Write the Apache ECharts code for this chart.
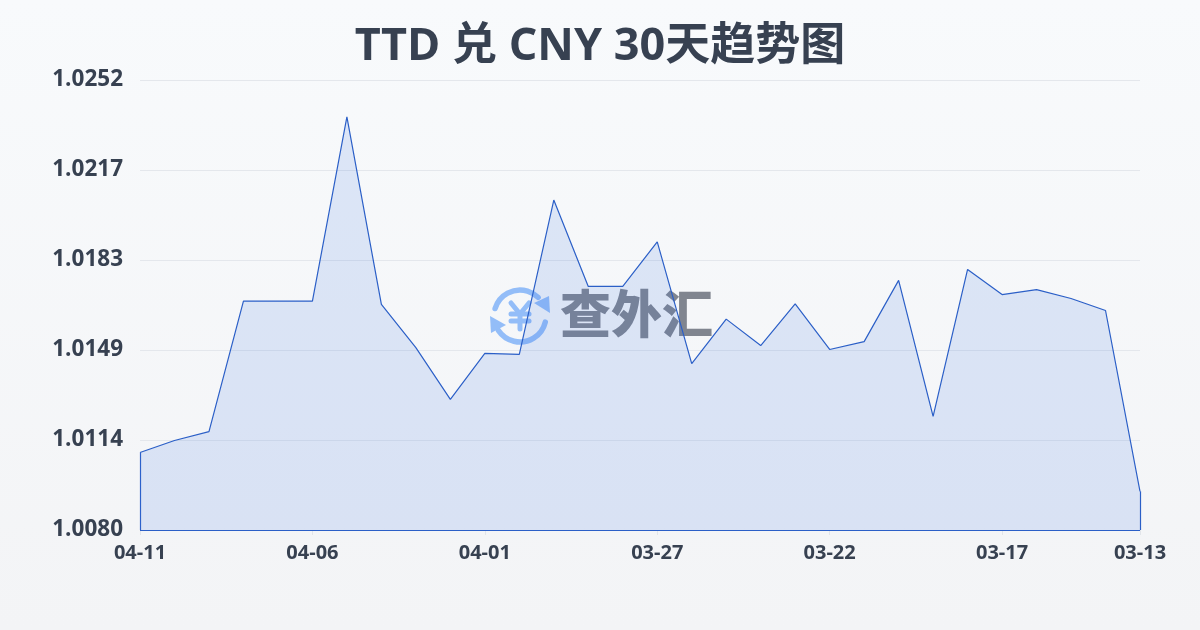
<!DOCTYPE html>
<html><head><meta charset="utf-8">
<style>html,body{margin:0;padding:0;width:1200px;height:630px;overflow:hidden;background:#f7f9fb}#c{width:1200px;height:630px}</style>
<script src="https://cdn.jsdelivr.net/npm/echarts@6/dist/echarts.min.js"></script>
</head><body><div id="c"></div>
<script>
const titleText = 'TTD 兑 CNY 30天趋势图';
const dates = ['04-11','04-10','04-09','04-08','04-07','04-06','04-05','04-04','04-03','04-02','04-01','03-31','03-30','03-29','03-28','03-27','03-26','03-25','03-24','03-23','03-22','03-21','03-20','03-19','03-18','03-17','03-16','03-15','03-14','03-13'];
const rates = [1.01096,1.01142,1.01176,1.01675,1.01675,1.01675,1.02379,1.01662,1.01497,1.01299,1.01475,1.01471,1.02061,1.01731,1.01731,1.01901,1.01436,1.01606,1.01505,1.01664,1.01490,1.01520,1.01754,1.01234,1.01796,1.01700,1.01719,1.01685,1.01639,1.00948];
const yMin = 1.0080, yStep = 0.00344, yMax = 1.0252;
const yTickLabels = ['1.0080','1.0114','1.0149','1.0183','1.0217','1.0252'];
const shownDates = ['04-11','04-06','04-01','03-27','03-22','03-17','03-13'];
const lineColor = '#2b5fc7', logoBlue = '#93bdf8';
const fontStack = '"Open Sans","Noto Sans CJK SC",sans-serif';
const edge = (a, b) => [{xAxis: a[0], yAxis: a[1]}, {xAxis: b[0], yAxis: b[1]}];
const last = dates.length - 1;
const logoStroke = {fill: null, stroke: logoBlue, lineWidth: 5.5, lineCap: 'round'};
const yenStroke = {stroke: logoBlue, lineWidth: 5, lineCap: 'round'};
const chart = echarts.init(document.getElementById('c'), null, {renderer: 'canvas'});
chart.setOption({
  animation: false,
  backgroundColor: new echarts.graphic.LinearGradient(0, 0, 0, 1, [{offset: 0, color: '#f8fafc'}, {offset: 1, color: '#f3f4f6'}]),
  textStyle: {fontFamily: fontStack},
  title: {text: titleText, left: 'center', top: 20, textStyle: {fontSize: 45, fontWeight: 'bold', color: '#374151', fontFamily: fontStack}},
  grid: {left: 140, right: 60, top: 80, bottom: 100},
  xAxis: {
    type: 'category', data: dates, boundaryGap: false,
    axisLine: {show: false},
    axisTick: {show: true, alignWithLabel: true, length: 5, lineStyle: {color: '#e2e5ea'}, interval: (i) => shownDates.includes(dates[i])},
    axisLabel: {color: '#374151', fontSize: 20, fontWeight: 'bold', fontFamily: fontStack, margin: 13, hideOverlap: false, interval: (i) => shownDates.includes(dates[i])}
  },
  yAxis: {
    type: 'value', min: yMin, max: yMax, interval: yStep,
    axisLine: {show: false}, axisTick: {show: false},
    splitLine: {lineStyle: {color: '#e4e7ec', width: 1}},
    axisLabel: {color: '#374151', fontSize: 22.5, fontWeight: 'bold', fontFamily: fontStack, margin: 17, formatter: (v) => yTickLabels[Math.round((v - yMin) / yStep)]}
  },
  graphic: [
    {type: 'group', z: 5, silent: true, children: [
      {type: 'arc', shape: {cx: 520, cy: 316, r: 26, startAngle: -2.85, endAngle: -0.8}, style: logoStroke},
      {type: 'arc', shape: {cx: 520, cy: 316, r: 26, startAngle: 0.235, endAngle: 2.55}, style: logoStroke},
      {type: 'polygon', shape: {points: [[549,296],[550,313],[534,303]]}, style: {fill: logoBlue}},
      {type: 'polygon', shape: {points: [[490,316],[491,333],[506,325]]}, style: {fill: logoBlue}},
      {type: 'line', shape: {x1: 511, y1: 303, x2: 520, y2: 314}, style: yenStroke},
      {type: 'line', shape: {x1: 529, y1: 303, x2: 520, y2: 314}, style: yenStroke},
      {type: 'line', shape: {x1: 520, y1: 314, x2: 520, y2: 329}, style: yenStroke},
      {type: 'line', shape: {x1: 511, y1: 314, x2: 529, y2: 314}, style: yenStroke},
      {type: 'line', shape: {x1: 511, y1: 321, x2: 529, y2: 321}, style: yenStroke}
    ]},
    {type: 'text', left: 560, top: 288, z: 5, silent: true, style: {text: '查外汇', fontSize: 51, fontWeight: 900, fontFamily: '"Noto Sans CJK SC"', fill: '#80858f'}}
  ],
  series: [{
    type: 'line', data: rates, symbol: 'none', smooth: false, z: 10,
    lineStyle: {color: lineColor, width: 1.2},
    areaStyle: {color: 'rgba(59,110,225,0.2)', origin: 'start'},
    markLine: {
      silent: true, symbol: 'none', label: {show: false}, animation: false,
      lineStyle: {color: lineColor, width: 1.2, type: 'solid'},
      data: [edge([0, yMin], [0, rates[0]]), edge([0, yMin], [last, yMin]), edge([last, yMin], [last, rates[last]])]
    }
  }]
});
</script></body></html>
